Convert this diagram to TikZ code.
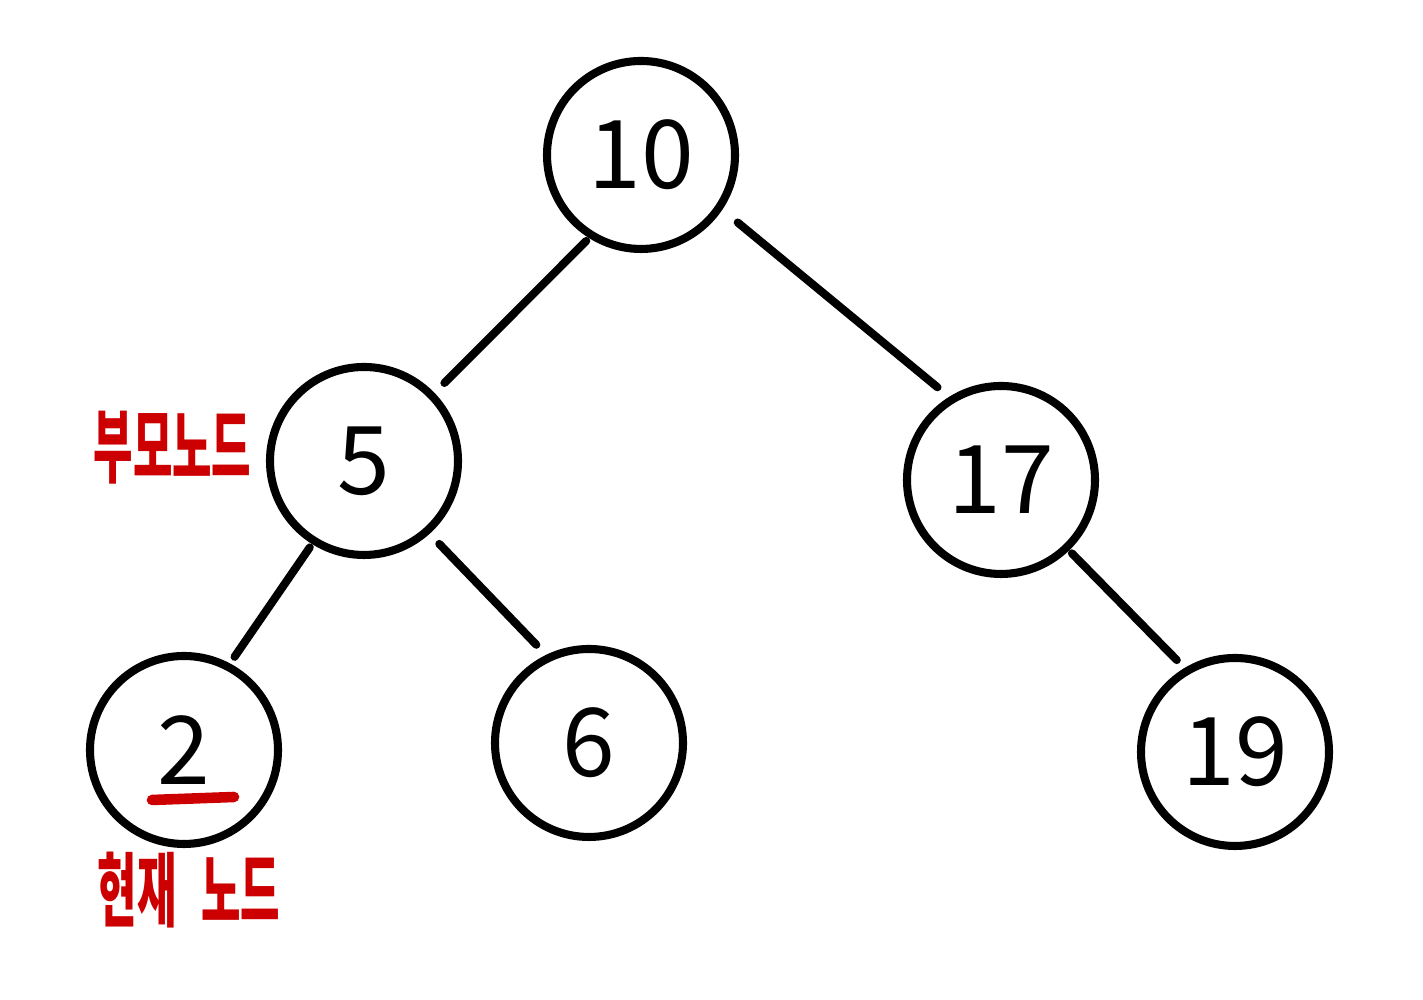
\documentclass[tikz,border=0pt]{standalone}
\usepackage{fontspec}
\setmainfont{Noto Sans CJK KR}
\newfontfamily\hangul[FakeStretch=0.53]{Noto Sans CJK KR}
\usepackage{tikz}
\usetikzlibrary{positioning,calc}
\usepackage{xcolor}
\definecolor{MarkRed}{RGB}{204,0,0}

\begin{document}
\begin{tikzpicture}[
    treenode/.style={circle, draw=black, line width=2.3pt, minimum size=1.88cm,
                     inner sep=0pt, font=\fontsize{27}{27}\selectfont},
    edge/.style={line width=2.3pt, line cap=round},
    redlabel/.style={text=MarkRed, font=\hangul\bfseries\fontsize{23}{23}\selectfont, inner sep=0pt}
]
    \useasboundingbox (0,0) rectangle (14.23,10);

    \node[treenode] (n10) at (6.41,8.45) {10};
    \node[treenode] (n5)  at (3.64,5.39) {5};
    \node[treenode] (n17) at (10.01,5.20) {17};
    \node[treenode] (n2)  at (1.84,2.50) {2};
    \node[treenode] (n6)  at (5.89,2.57) {6};
    \node[treenode] (n19) at (12.35,2.48) {19};

    \draw[edge, shorten <=0.04cm, shorten >=0.14cm] (n10.238) -- (n5.44);
    \draw[edge, shorten <=0.2cm,  shorten >=0.15cm] (n10.326) -- (n17.122);
    \draw[edge, shorten <=0.04cm, shorten >=0.08cm] (n5.238)  -- (n2.62);
    \draw[edge, shorten <=0.14cm, shorten >=0.14cm] (n5.312)  -- (n6.116);
    \draw[edge, shorten <=0.04cm, shorten >=0.11cm] (n17.314) -- (n19.121);

    % labels
    \node[redlabel, left=0.14cm of n5, yshift=0.13cm] (parent) {부모노드};
    \node[redlabel, below=0.03cm of n2, xshift=0.05cm] (current) {현재\hspace{0.25cm}노드};
    \draw[MarkRed, line width=3pt, line cap=round]
        ($(n2)+(-0.32,-0.5)$) -- ($(n2)+(0.5,-0.47)$);
\end{tikzpicture}
\end{document}
